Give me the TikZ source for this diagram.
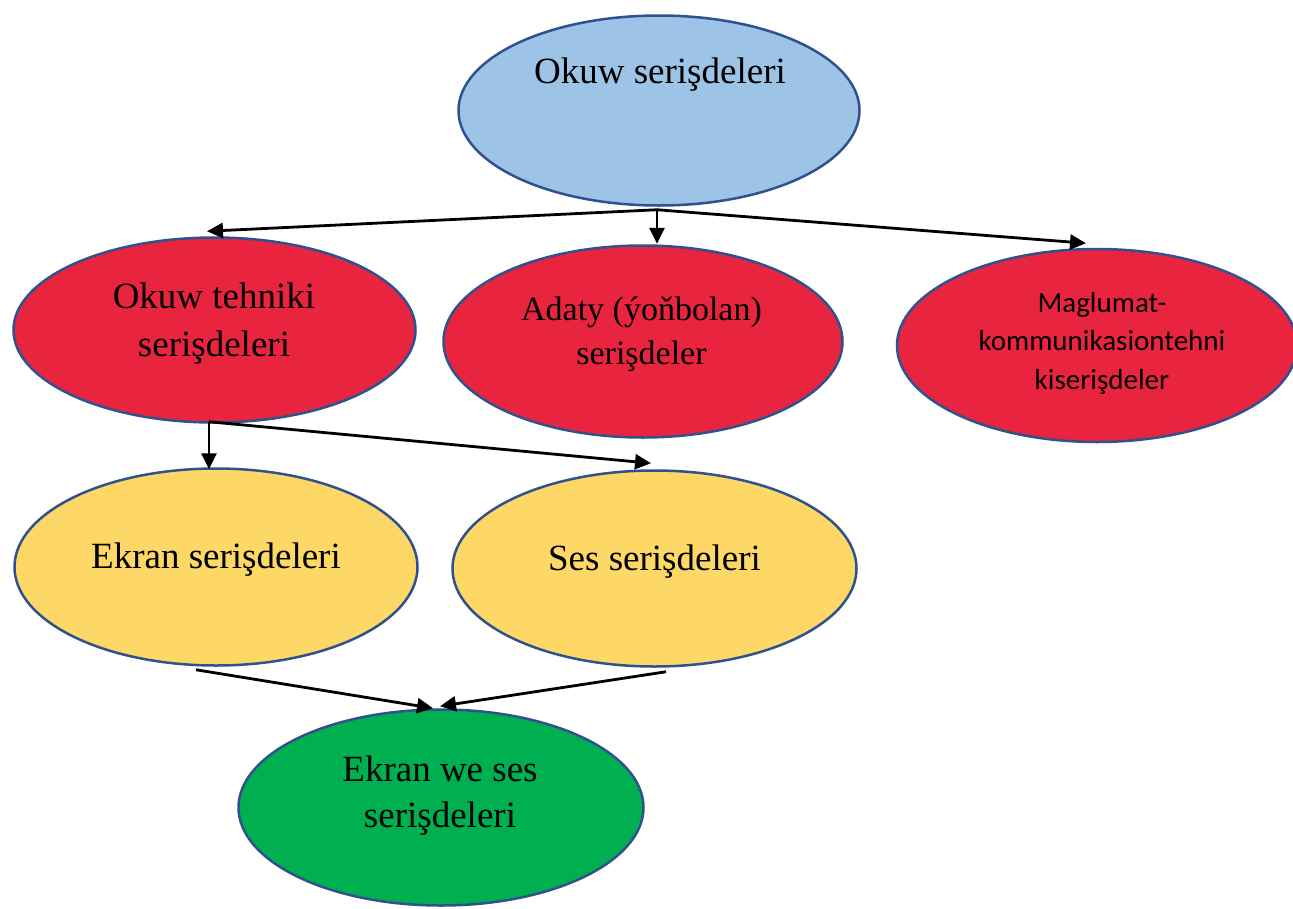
\documentclass[tikz,border=0pt]{standalone}
\usepackage{fontspec}
\setmainfont{Liberation Serif}
\newfontfamily\calfont{Carlito}
\usetikzlibrary{shapes.geometric,arrows.meta}
\definecolor{edgeC}{HTML}{2F528F}
\definecolor{blueF}{HTML}{9DC3E6}
\definecolor{redF}{HTML}{E9243F}
\definecolor{yelF}{HTML}{FDD866}
\definecolor{greenF}{HTML}{00AF50}
\begin{document}
\begin{tikzpicture}[x=1pt,y=-1pt,
  ell/.style={ellipse, draw=edgeC, line width=2.5pt, inner sep=0pt},
  arr/.style={-{Triangle[length=16pt,width=15pt]}, line width=2.8pt, black},
  txt/.style={font=\fontsize{37}{48}\selectfont, align=center, anchor=base, inner sep=0pt},
]
\useasboundingbox[fill=white] (0,0) rectangle (1293,908);

\node[ell, fill=blueF,  minimum width=401pt, minimum height=190pt] (top)  at (659,110.5) {};
\node[ell, fill=redF,   minimum width=402pt, minimum height=185pt] (red1) at (214.5,330) {};
\node[ell, fill=redF,   minimum width=399pt, minimum height=192pt] (red2) at (643,341.5) {};
\node[ell, fill=redF,   minimum width=400pt, minimum height=193pt] (red3) at (1097,345.5) {};
\node[ell, fill=yelF,   minimum width=403pt, minimum height=197pt] (yel1) at (216,567) {};
\node[ell, fill=yelF,   minimum width=404pt, minimum height=196pt] (yel2) at (654.5,568.5) {};
\node[ell, fill=greenF, minimum width=405pt, minimum height=196pt] (grn)  at (441,807.5) {};

\node[txt] (t0) at (660,83) {Okuw serişdeleri};
\node[txt] (t1) at (214,356) {Okuw tehniki\\serişdeleri};
\node[txt, font=\fontsize{34}{44}\selectfont] (t2) at (641.5,364) {Adaty (ýoňbolan)\\serişdeler};
\node[txt, font=\calfont\fontsize{29}{38.5}\selectfont] (t3) at (1102,389) {Maglumat-\\kommunikasiontehni\\kiserişdeler};
\node[txt] (t4) at (216,568) {Ekran serişdeleri};
\node[txt] (t5) at (654.5,570) {Ses serişdeleri};
\node[txt, font=\fontsize{37}{46}\selectfont] (t6) at (440,827) {Ekran we ses\\serişdeleri};

\coordinate (j1) at ([xshift=-2pt,yshift=-3pt]top.south);
\draw[arr] (j1) -- ([xshift=-7.5pt,yshift=5pt]red1.north);
\draw[arr] (j1) -- ([xshift=14pt,yshift=0.5pt]red2.north);
\draw[arr] (j1) -- ([xshift=-11pt,yshift=4.5pt]red3.north);

\coordinate (j2) at ([xshift=-5.5pt,yshift=2pt]red1.south);
\draw[arr] (j2) -- ([xshift=-7pt,yshift=-2pt]yel1.north);
\draw[arr] (j2) -- ([xshift=-3.5pt,yshift=6pt]yel2.north);

\draw[arr] ([xshift=-20pt,yshift=-3pt]yel1.south) -- ([xshift=-8pt]grn.north);
\draw[arr] ([xshift=11.5pt,yshift=-4pt]yel2.south) -- ([xshift=-1pt,yshift=2pt]grn.north);
\end{tikzpicture}
\end{document}
